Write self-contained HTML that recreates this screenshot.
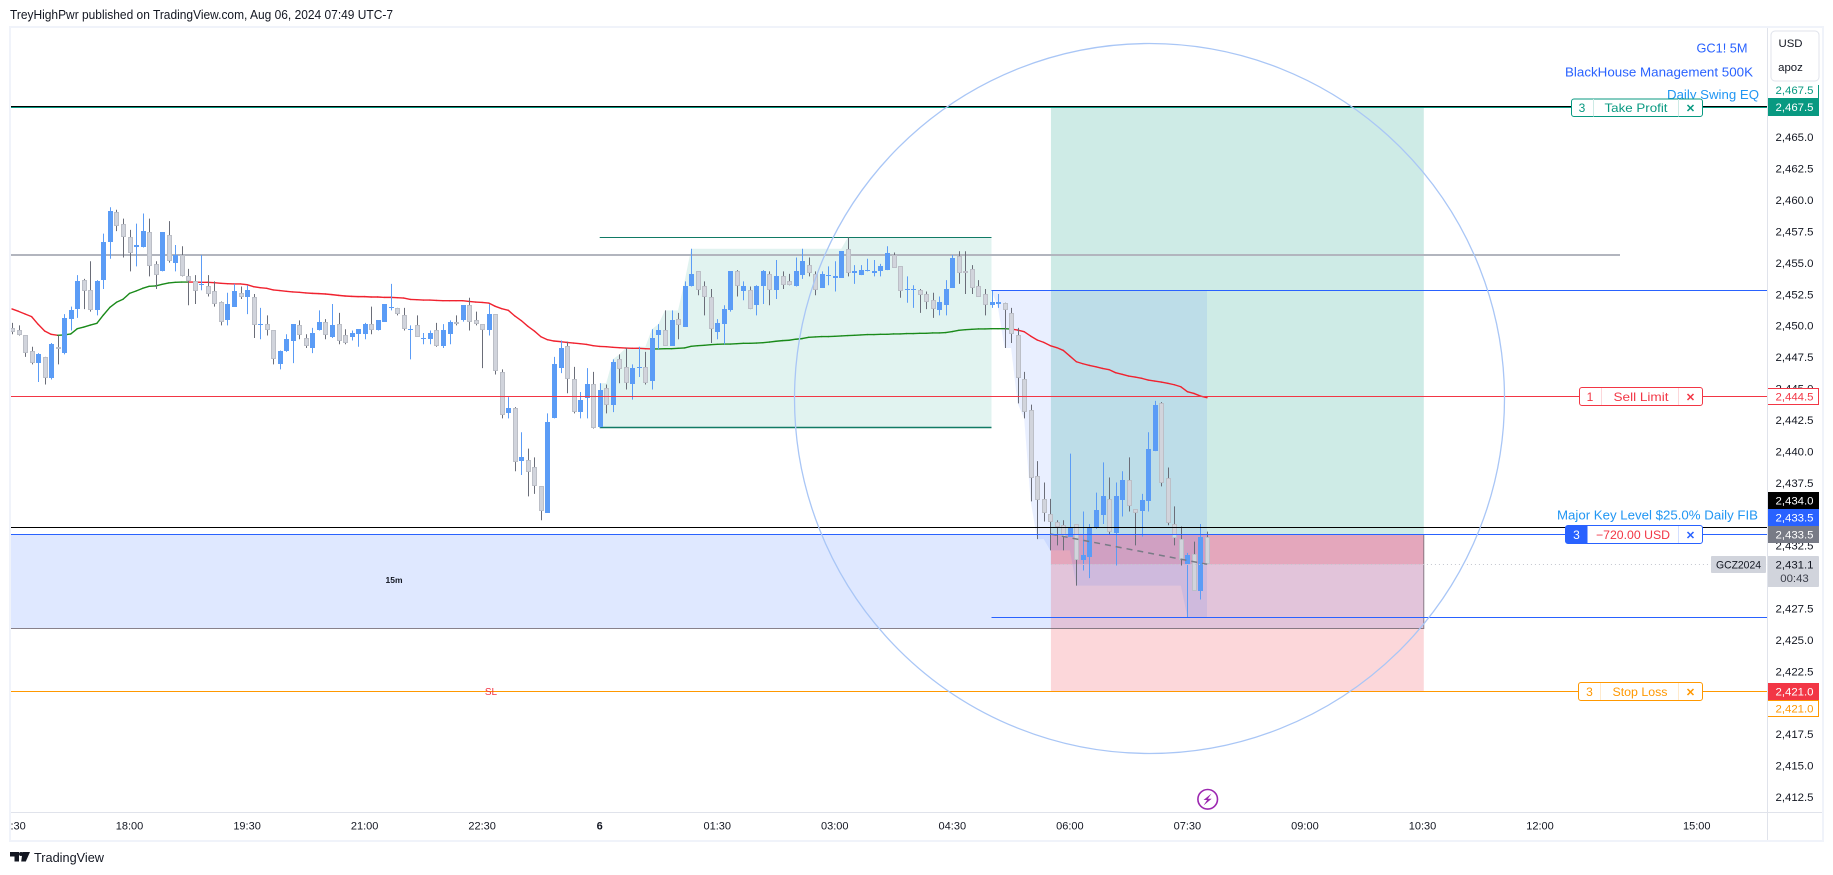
<!DOCTYPE html>
<html lang="en">
<head>
<meta charset="utf-8">
<title>GC1! 5M TradingView chart</title>
<style>
html,body{margin:0;padding:0;background:#fff;width:1833px;height:875px;overflow:hidden}
svg{display:block}
text{font-family:"Liberation Sans",sans-serif;fill:#131722}
.tag{font-size:12px;text-anchor:middle}
.ax{font-size:11.4px;text-anchor:middle}
.x{font-size:11px;font-weight:bold;text-anchor:middle}
</style>
</head>
<body>
<svg id="chart" xmlns="http://www.w3.org/2000/svg" width="1833" height="875" viewBox="0 0 1833 875">
  <defs>
    <clipPath id="plot-clip"><rect x="11" y="28" width="1756" height="784"/></clipPath>
    <clipPath id="time-clip"><rect x="11" y="813" width="1756" height="27"/></clipPath>
  </defs>
  <rect x="0" y="0" width="1833" height="875" fill="#ffffff"/>
  <text x="10" y="19" font-size="12.5" textLength="383" lengthAdjust="spacingAndGlyphs">TreyHighPwr published on TradingView.com, Aug 06, 2024 07:49 UTC-7</text>

  <g clip-path="url(#plot-clip)">
    <g id="zones"></g>
    <g id="backlines"></g>
    <g id="ma"></g>
    <g id="candles"></g>
    <g id="overlays"></g>
    <text x="394" y="583" font-size="8.5" font-weight="bold" text-anchor="middle">15m</text>
    <text x="491" y="695" font-size="10" fill="#f23645" style="fill:#f23645" text-anchor="middle">SL</text>
  </g>

  <g>
    <text x="1747.5" y="52.5" font-size="13" text-anchor="end" textLength="51" lengthAdjust="spacingAndGlyphs" style="fill:#2962ff">GC1! 5M</text>
    <text x="1753" y="76.5" font-size="13" text-anchor="end" textLength="188" lengthAdjust="spacingAndGlyphs" style="fill:#2962ff">BlackHouse Management 500K</text>
    <text x="1759" y="99" font-size="13" text-anchor="end" textLength="92" lengthAdjust="spacingAndGlyphs" style="fill:#2196f3">Daily Swing EQ</text>
    <text x="1758" y="519.5" font-size="13" text-anchor="end" textLength="201" lengthAdjust="spacingAndGlyphs" style="fill:#2196f3">Major Key Level $25.0% Daily FIB</text>
  </g>

  <g>
    <rect x="1571.5" y="99" width="131" height="17.5" rx="2.5" fill="#fff" stroke="#089981"/>
    <line x1="1593.5" x2="1593.5" y1="99" y2="116.5" stroke="#cdeae5"/>
    <line x1="1678.5" x2="1678.5" y1="99" y2="116.5" stroke="#cdeae5"/>
    <text class="tag" x="1582" y="112" style="fill:#089981">3</text>
    <text class="tag" x="1636" y="112" textLength="63" lengthAdjust="spacingAndGlyphs" style="fill:#089981">Take Profit</text>
    <text class="x" x="1690.5" y="112" style="fill:#089981">✕</text>
  </g>
  <g>
    <rect x="1579.5" y="387.5" width="123" height="18" rx="2.5" fill="#fff" stroke="#f23645"/>
    <line x1="1601.5" x2="1601.5" y1="388" y2="405" stroke="#fcd7da"/>
    <line x1="1678.5" x2="1678.5" y1="388" y2="405" stroke="#fcd7da"/>
    <text class="tag" x="1590" y="401" style="fill:#f23645">1</text>
    <text class="tag" x="1641" y="401" textLength="55" lengthAdjust="spacingAndGlyphs" style="fill:#f23645">Sell Limit</text>
    <text class="x" x="1690.5" y="401" style="fill:#f23645">✕</text>
  </g>
  <g>
    <rect x="1565.5" y="525.5" width="137" height="18" rx="2.5" fill="#fff" stroke="#2962ff"/>
    <path d="M1568 525.5h19.5v18H1568a2.5 2.5 0 0 1-2.5-2.5v-13a2.5 2.5 0 0 1 2.5-2.5z" fill="#2962ff"/>
    <line x1="1678.5" x2="1678.5" y1="526" y2="543" stroke="#d4dfff"/>
    <text class="tag" x="1576.5" y="539" style="fill:#fff">3</text>
    <text class="tag" x="1633" y="539" textLength="74" lengthAdjust="spacingAndGlyphs" style="fill:#f23645">−720.00 USD</text>
    <text class="x" x="1690.5" y="539" style="fill:#2962ff">✕</text>
  </g>
  <g>
    <rect x="1578.5" y="682.5" width="124" height="18" rx="2.5" fill="#fff" stroke="#ff9800"/>
    <line x1="1600.5" x2="1600.5" y1="683" y2="700" stroke="#ffeacc"/>
    <line x1="1678.5" x2="1678.5" y1="683" y2="700" stroke="#ffeacc"/>
    <text class="tag" x="1589.5" y="696" style="fill:#ff9800">3</text>
    <text class="tag" x="1640" y="696" textLength="55" lengthAdjust="spacingAndGlyphs" style="fill:#ff9800">Stop Loss</text>
    <text class="x" x="1690.5" y="696" style="fill:#ff9800">✕</text>
  </g>

  <g>
    <rect x="1711" y="556" width="55" height="17" rx="1" fill="#d1d4dc"/>
    <text x="1738.5" y="568.5" font-size="11.4" text-anchor="middle" textLength="45" lengthAdjust="spacingAndGlyphs">GCZ2024</text>
  </g>

  <g id="time-axis" clip-path="url(#time-clip)"></g>
  <g id="price-axis"></g>

  <g>
    <line x1="1767.5" x2="1767.5" y1="85" y2="98" stroke="#089981"/>
    <line x1="1818.5" x2="1818.5" y1="85" y2="98" stroke="#089981"/>
    <rect x="1768" y="85" width="50" height="13" fill="#fff"/>
    <text class="ax" x="1794.5" y="94" style="fill:#089981">2,467.5</text>
    <rect x="1767" y="98" width="52" height="18" fill="#089981"/>
    <text class="ax" x="1794.5" y="111" style="fill:#fff">2,467.5</text>

    <rect x="1767.5" y="388.5" width="51" height="16" fill="#fff" stroke="#f23645"/>
    <text class="ax" x="1794.5" y="400.5" style="fill:#f23645">2,444.5</text>

    <rect x="1767" y="492" width="52" height="17" fill="#000"/>
    <text class="ax" x="1794.5" y="504.5" style="fill:#fff">2,434.0</text>
    <rect x="1767" y="509" width="52" height="17" fill="#2962ff"/>
    <text class="ax" x="1794.5" y="521.5" style="fill:#fff">2,433.5</text>
    <rect x="1767" y="526" width="52" height="17" fill="#787b86"/>
    <text class="ax" x="1794.5" y="538.5" style="fill:#fff">2,433.5</text>

    <rect x="1767" y="556" width="52" height="31" rx="1" fill="#d1d4dc"/>
    <text class="ax" x="1794.5" y="568.5">2,431.1</text>
    <text class="ax" x="1794.5" y="582" style="fill:#3c3f4a">00:43</text>

    <rect x="1767" y="683" width="52" height="17" fill="#f23645"/>
    <text class="ax" x="1794.5" y="695.5" style="fill:#fff">2,421.0</text>
    <rect x="1767.5" y="700.5" width="51" height="16" fill="#fff" stroke="#ff9800"/>
    <text class="ax" x="1794.5" y="712.5" style="fill:#ff9800">2,421.0</text>

    <rect x="1771" y="31" width="48" height="50" rx="4" fill="#fff" stroke="#e0e3eb"/>
    <text x="1790.5" y="47" font-size="11.4" text-anchor="middle">USD</text>
    <text x="1790.5" y="71" font-size="11.4" text-anchor="middle">apoz</text>
  </g>

  <g>
    <rect x="9" y="26" width="1815" height="2" fill="#f0f3fa"/>
    <rect x="9" y="26" width="2" height="816" fill="#f0f3fa"/>
    <rect x="1822" y="26" width="2" height="816" fill="#f0f3fa"/>
    <rect x="9" y="840" width="1815" height="2" fill="#f0f3fa"/>
    <rect x="1767" y="28" width="1" height="812" fill="#e0e3eb"/>
    <rect x="11" y="812" width="1811" height="1" fill="#e0e3eb"/>
  </g>

  <g>
    <circle cx="1207.7" cy="799.3" r="9.8" fill="#fff" stroke="#9c27b0" stroke-width="1.6"/>
    <path d="M1211.5 793.5l-8 6.5h3.6l-3.6 5.5 8.2-6.8h-3.8z" fill="#9c27b0"/>
  </g>

  <g>
    <path d="M10 852h9v9.5h-4.5v-5H10zM22.5 852h7.5l-4.2 9.5h-4.6z" fill="#131722"/>
    <circle cx="21" cy="854" r="2" fill="#131722"/>
    <text x="34" y="862" font-size="13" textLength="70" lengthAdjust="spacingAndGlyphs">TradingView</text>
  </g>
</svg>

<script>
const opens=[2449.9,2449.7,2449.3,2448.1,2447.1,2447.6,2445.9,2448.4,2447.9,2450.6,
2451.4,2453.7,2452.9,2451.3,2453.7,2456.7,2459.1,2458.2,2457.1,2456.3,
2456.3,2457.5,2455.0,2454.4,2457.3,2455.1,2455.7,2454.0,2453.6,2453.3,
2453.2,2452.8,2452.0,2450.5,2451.6,2452.7,2452.4,2452.4,2450.1,2450.2,
2449.7,2447.0,2448.1,2448.9,2450.1,2449.1,2448.3,2449.7,
2450.4,2449.2,2450.2,2449.3,2449.2,2449.4,2449.4,2450.2,2449.7,2450.4,
2451.5,2451.5,2450.9,2449.7,2450.1,2449.0,2449.0,2449.7,2448.5,2449.4,
2450.4,2450.5,2451.7,2450.5,2450.2,2449.7,2451.0,2446.4,2443.1,2443.5,
2439.3,2439.4,2438.8,2437.3,2435.2,2442.7,2446.7,2448.5,2445.8,2443.2,
2444.3,2445.4,2442.0,2445.1,2443.8,2447.4,2446.8,2445.4,2446.7,
2446.8,2445.7,2449.3,2449.7,2448.5,2450.6,2450.0,2453.2,2454.4,2453.2,
2452.4,2449.6,2450.2,2451.3,2454.4,2452.8,2452.9,2451.7,2453.2,2454.2,
2452.9,2454.0,2453.6,2453.2,2454.1,2454.9,2454.2,2453.1,2454.0,2453.9,
2453.9,2456.2,2454.3,2454.1,2454.4,2454.3,2454.4,2454.5,2455.7,2454.8,
2452.9,2452.9,2452.9,2452.6,2452.1,2451.3,2451.7,2453.1,2455.6,2454.4,
2454.6,2453.2,2452.6,2451.7,2451.8,
2451.9,2451.1,2449.3,2445.8,2443.4,2438.1,2436.3,2435.1,2434.5,2434.2,
2433.3,2434.3,2431.4,2431.7,2434.1,2435.0,2436.3,2433.6,2436.2,2437.8,
2435.5,2435.3,2436.1,2440.1,2443.9,2438.0,2434.3,2433.1,2431.1,2431.9,
2429.0,2433.3];
const closes=[2449.6,2449.3,2447.9,2447.1,2447.8,2445.9,2448.6,2448.2,2450.7,2451.3,
2453.6,2452.8,2451.3,2453.6,2456.7,2459.2,2458.0,2457.1,2455.9,2456.5,
2457.6,2454.8,2454.1,2457.5,2455.2,2455.7,2454.0,2453.6,2452.8,2453.4,
2452.6,2451.8,2450.4,2451.8,2452.8,2452.4,2452.9,2450.1,2450.2,2449.7,
2447.4,2448.1,2449.0,2450.2,2449.3,2448.5,2449.5,2450.4,
2449.3,2450.1,2448.9,2448.7,2449.5,2449.8,2450.2,2449.7,2450.5,2451.8,
2451.6,2451.0,2449.8,2449.8,2449.2,2449.1,2449.5,2448.5,2449.7,2450.4,
2450.2,2451.7,2450.4,2450.2,2449.7,2451.0,2446.5,2443.0,2443.5,2439.2,
2439.6,2438.4,2437.3,2435.3,2442.4,2447.0,2448.3,2445.8,2443.2,2444.2,
2445.4,2441.9,2445.0,2443.8,2447.2,2446.6,2445.5,2446.7,2446.8,
2445.5,2449.1,2449.7,2448.5,2450.5,2450.1,2453.2,2454.2,2452.9,2452.4,
2449.8,2450.3,2451.4,2454.4,2453.2,2453.2,2451.4,2453.2,2454.4,2452.9,
2454.0,2453.3,2453.3,2454.4,2455.2,2454.3,2452.9,2454.2,2454.1,2454.0,
2456.0,2454.3,2454.4,2454.5,2454.5,2454.4,2454.8,2455.9,2454.7,2452.8,
2453.0,2453.0,2452.5,2452.0,2451.4,2452.0,2453.0,2455.5,2454.3,2454.3,
2453.1,2452.4,2451.7,2452.0,2452.0,
2451.3,2449.4,2445.9,2443.2,2438.0,2436.2,2435.2,2434.5,2434.1,2433.3,
2434.1,2431.4,2431.8,2434.1,2435.4,2436.5,2433.7,2436.5,2437.8,2435.7,
2435.2,2436.2,2440.3,2443.8,2437.6,2434.4,2433.2,2431.4,2431.8,2429.0,
2433.3,2431.1];
const highs=[2450.3,2450.1,2449.3,2448.4,2447.9,2447.6,2448.7,2449.3,2451.0,2451.6,
2454.1,2453.8,2455.2,2453.7,2457.4,2459.5,2459.3,2458.6,2457.7,2458.2,
2459.0,2458.6,2455.2,2457.5,2458.4,2456.5,2456.4,2454.6,2454.1,2455.7,
2454.1,2453.6,2452.0,2452.7,2453.4,2453.2,2453.3,2452.6,2451.5,2450.9,
2449.7,2448.1,2449.4,2450.2,2450.5,2449.4,2449.9,2451.3,
2450.6,2451.8,2451.1,2449.8,2449.7,2449.8,2450.3,2451.6,2450.5,2451.8,
2453.4,2451.5,2451.5,2450.1,2450.9,2449.5,2449.7,2450.3,2450.2,2450.5,
2450.9,2451.7,2452.3,2451.2,2450.2,2451.8,2451.0,2446.6,2444.4,2443.6,
2441.6,2440.3,2439.6,2437.3,2443.1,2447.6,2448.9,2448.8,2446.8,2444.8,
2446.7,2446.4,2445.5,2445.4,2447.4,2447.8,2448.3,2447.0,2448.4,
2448.0,2449.8,2450.2,2451.3,2451.3,2451.1,2453.6,2456.2,2454.4,2453.6,
2453.0,2450.6,2451.7,2454.4,2454.5,2453.6,2453.2,2453.3,2454.5,2454.4,
2455.3,2454.4,2454.2,2455.5,2456.2,2455.5,2454.4,2454.4,2454.8,2455.2,
2456.0,2457.1,2454.9,2454.9,2455.4,2455.3,2455.0,2456.4,2455.9,2454.8,
2454.0,2453.3,2453.0,2452.8,2452.7,2452.4,2453.7,2455.7,2456.0,2456.0,
2454.9,2453.7,2453.0,2452.9,2452.6,
2451.9,2451.5,2449.9,2446.4,2443.8,2439.3,2437.6,2436.3,2434.6,2434.6,
2439.9,2434.3,2435.3,2434.3,2436.8,2439.2,2438.0,2437.6,2438.5,2439.6,
2435.5,2436.7,2441.6,2444.1,2444.0,2438.8,2435.7,2434.1,2432.0,2432.9,
2434.3,2433.7];
const lows=[2449.4,2449.3,2447.6,2447.0,2445.6,2445.4,2445.8,2447.0,2447.8,2449.7,
2450.7,2451.4,2451.2,2450.9,2453.0,2455.4,2457.6,2455.5,2454.4,2454.8,
2456.3,2454.0,2453.0,2454.4,2455.1,2454.4,2454.0,2451.7,2451.8,2452.9,
2452.4,2451.6,2450.1,2450.1,2451.6,2452.2,2451.0,2449.1,2449.0,2449.3,
2447.0,2446.6,2448.0,2447.1,2449.0,2448.3,2447.9,2449.7,
2449.0,2449.1,2448.6,2448.6,2448.9,2448.4,2449.0,2449.4,2449.7,2450.4,
2451.3,2450.9,2449.7,2447.4,2449.2,2448.6,2448.6,2448.4,2448.3,2448.6,
2450.1,2450.4,2449.7,2450.1,2446.7,2449.3,2446.2,2442.7,2442.7,2438.5,
2438.2,2436.5,2436.7,2434.6,2435.2,2442.7,2446.3,2444.7,2443.1,2442.7,
2442.7,2441.9,2442.0,2443.1,2443.2,2445.5,2445.0,2444.2,2446.0,
2445.4,2445.0,2448.2,2448.5,2448.5,2449.0,2450.0,2453.2,2452.5,2450.9,
2448.7,2449.0,2448.6,2451.2,2452.4,2452.1,2451.4,2450.9,2451.8,2451.7,
2452.2,2453.0,2453.3,2453.2,2453.8,2454.0,2452.5,2453.1,2453.3,2452.8,
2453.9,2454.0,2453.4,2454.1,2454.4,2454.0,2454.0,2454.5,2454.7,2452.3,
2451.9,2451.5,2451.1,2451.4,2450.7,2450.9,2450.9,2453.1,2453.4,2452.6,
2452.6,2452.4,2450.9,2451.5,2451.5,
2448.3,2448.7,2443.9,2442.7,2436.1,2433.1,2434.5,2432.2,2432.6,2432.2,
2433.3,2429.4,2430.6,2430.0,2433.9,2434.3,2433.5,2431.0,2434.9,2435.3,
2432.6,2433.3,2435.3,2440.1,2437.3,2434.2,2432.6,2431.0,2426.9,2429.0,
2428.3,2431.1];
const maValues=[2451.41,2451.22,2451.01,2450.8,2450.19,2449.66,2449.39,2449.31,2449.34,2449.42,
2449.84,2449.97,2450.13,2450.27,2450.93,2451.54,2451.94,2452.18,2452.65,2452.84,
2453.05,2453.21,2453.24,2453.37,2453.48,2453.53,2453.55,2453.55,2453.55,2453.53,
2453.53,2453.5,2453.45,2453.42,2453.4,2453.4,2453.34,2453.18,2453.1,2453.05,
2452.92,2452.87,2452.81,2452.76,2452.73,2452.68,2452.65,2452.63,
2452.6,2452.55,2452.49,2452.44,2452.41,2452.39,2452.39,2452.36,2452.36,2452.33,
2452.33,2452.31,2452.28,2452.17,2452.15,2452.12,2452.12,2452.09,2452.07,2452.07,
2452.07,2452.07,2452.01,2451.96,2451.93,2451.88,2451.62,2451.43,2451.3,2450.85,
2450.48,2450.03,2449.65,2449.2,2448.96,2448.86,2448.81,2448.75,2448.7,2448.65,
2448.59,2448.49,2448.43,2448.41,2448.36,2448.33,2448.3,2448.28,2448.28,
2448.25,2448.23,2448.23,2448.25,2448.25,2448.28,2448.31,2448.44,2448.49,2448.52,
2448.57,2448.6,2448.62,2448.62,2448.65,2448.68,2448.68,2448.7,2448.73,2448.78,
2448.84,2448.89,2448.92,2449.0,2449.05,2449.15,2449.18,2449.21,2449.21,2449.23,
2449.26,2449.29,2449.31,2449.34,2449.37,2449.37,2449.39,2449.39,2449.42,2449.42,
2449.45,2449.45,2449.47,2449.47,2449.5,2449.5,2449.53,2449.61,2449.71,2449.76,
2449.79,2449.82,2449.82,2449.84,2449.84,
2449.84,2449.81,2449.73,2449.6,2449.25,2448.94,2448.75,2448.49,2448.33,2448.11,
2447.66,2447.21,2447.05,2446.92,2446.81,2446.68,2446.58,2446.34,2446.21,2446.07,
2445.99,2445.89,2445.75,2445.67,2445.59,2445.49,2445.38,2445.22,2444.83,2444.69,
2444.48,2444.35];
const maGreenStart=[7,98];
const maGreenEnd=[27,153];
const priceTicks=[2465,2462.5,2460,2457.5,2455,2452.5,2450,2447.5,2445,2442.5,2440,2437.5,2432.5,2427.5,2425,2422.5,2417.5,2415,2412.5];
const timeTickBars=[0,18,36,54,72,90,108,126,144,162,180,198,216,234,258];
const timeTickLabels=["16:30","18:00","19:30","21:00","22:30","6","01:30","03:00","04:30","06:00","07:30","09:00","10:30","12:00","15:00"];
const takeProfitPrice=2467.5;
const entryPrice=2433.5;
const stopPrice=2421;
const sellLimitPrice=2444.5;
const blackLevelPrice=2434;
const grayLevelPrice=2455.7;
const lastPrice=2431.1;
const zoneTopPrice=2433.5;
const zoneBottomPrice=2426;
const rangeHighPrice=2457.1;
const rangeLowPrice=2442;
const fallTopPrice=2452.9;
const fallBottomPrice=2426.9;
const riseStartBar=90;
const riseEndBar=150;
const fallStartBar=150;
const fallEndBar=183;
const positionStartBar=159.1;
const positionEndBar=216.2;

const SVGNS='http://www.w3.org/2000/svg';
function xAt(i){return 12+i*6.53;}
function yAt(p){return 106.7+(2467.5-p)*12.57;}
function snap(v){return Math.floor(v)+0.5;}
function mk(parent,tag,attrs){
  const el=document.createElementNS(SVGNS,tag);
  for(const k in attrs){el.setAttribute(k,attrs[k]);}
  parent.appendChild(el);
  return el;
}
const zones=document.getElementById('zones');
const back=document.getElementById('backlines');
const maLayer=document.getElementById('ma');
const candleLayer=document.getElementById('candles');
const over=document.getElementById('overlays');
const timeAxis=document.getElementById('time-axis');
const priceAxis=document.getElementById('price-axis');

function band(i0,i1,p0,p1,fill){
  return mk(zones,'rect',{x:xAt(i0),y:yAt(p0),width:xAt(i1)-xAt(i0),height:yAt(p1)-yAt(p0),fill:fill});
}
let el;
el=mk(zones,'rect',{x:11,y:yAt(zoneTopPrice),width:xAt(positionEndBar)-11,height:yAt(zoneBottomPrice)-yAt(zoneTopPrice),fill:'rgba(41,98,255,0.15)'});


el=band(positionStartBar,positionEndBar,takeProfitPrice,entryPrice,'rgba(8,153,129,0.2)');


el=band(positionStartBar,positionEndBar,entryPrice,stopPrice,'rgba(242,54,69,0.2)');


el=band(positionStartBar,positionEndBar,entryPrice,lastPrice,'rgba(242,54,69,0.2)');



/* zone outline (right + bottom) */
el=mk(zones,'path',{d:'M'+xAt(positionEndBar)+' '+yAt(zoneTopPrice)+'V'+snap(yAt(zoneBottomPrice))+'H11',fill:'none',stroke:'rgba(100,90,100,0.75)','stroke-width':1});



/* rising range: top tracks running max of highs */
let pts=[[xAt(riseStartBar),yAt(rangeLowPrice)]];
let runMax=-Infinity;
for(let i=riseStartBar;i<=riseEndBar;i++){
  runMax=Math.max(runMax,highs[i]);
  pts.push([xAt(i),yAt(runMax)]);
}
pts.push([xAt(riseEndBar),yAt(rangeLowPrice)]);
el=mk(zones,'polygon',{points:pts.map(p=>p.join(',')).join(' '),fill:'rgba(8,153,129,0.12)'});



/* falling range: bottom tracks running min of lows */
pts=[[xAt(fallStartBar),yAt(fallTopPrice)],[xAt(fallEndBar),yAt(fallTopPrice)]];
const lower=[];
let runMin=Infinity;
for(let i=fallStartBar+1;i<=fallEndBar;i++){
  runMin=Math.min(runMin,lows[i]);
  lower.push([xAt(i),yAt(runMin)]);
}
pts=pts.concat(lower.reverse());
el=mk(zones,'polygon',{points:pts.map(p=>p.join(',')).join(' '),fill:'rgba(41,98,255,0.1)'});



function hline(parent,x1,x2,price,color,w){
  const y=snap(yAt(price));
  return mk(parent,'line',{x1:x1,x2:x2,y1:y,y2:y,stroke:color,'stroke-width':w||1});
}
el=mk(back,'line',{x1:11,x2:1620,y1:Math.round(yAt(grayLevelPrice)),y2:Math.round(yAt(grayLevelPrice)),stroke:'#b2b5be','stroke-width':2});


el=hline(back,xAt(riseStartBar),xAt(riseEndBar),rangeHighPrice,'#117a65',1);


el=hline(back,xAt(riseStartBar),xAt(riseEndBar),rangeLowPrice,'#117a65',1.4);



/* moving average */
for(let i=0;i<maValues.length-1;i++){
  let green=false;
  for(let s=0;s<maGreenStart.length;s++){
    if(i>=maGreenStart[s]&&i<maGreenEnd[s]){green=true;}
  }
  el=mk(maLayer,'line',{x1:xAt(i),y1:yAt(maValues[i]),x2:xAt(i+1),y2:yAt(maValues[i+1]),stroke:green?'#1a8a1a':'#f0222f','stroke-width':1.4,'stroke-linecap':'round'});
  
  
}

/* candles */
for(let i=0;i<opens.length;i++){
  const up=closes[i]>=opens[i];
  const cx=Math.round(xAt(i));
  const top=Math.round(yAt(Math.max(opens[i],closes[i])));
  const bot=Math.max(top+1,Math.round(yAt(Math.min(opens[i],closes[i]))));
  const wick=mk(candleLayer,'line',{x1:cx+0.5,x2:cx+0.5,y1:yAt(highs[i]),y2:yAt(lows[i]),stroke:up?'#5b9cf6':'#6a6d78','stroke-width':1});
  
  
  let body;
  if(up){
    body=mk(candleLayer,'rect',{x:cx-2,y:top,width:5,height:bot-top,fill:'#5b9cf6'});
  }else{
    body=mk(candleLayer,'rect',{x:cx-1.5,y:top+0.5,width:4,height:Math.max(1,bot-top-1),fill:'#d1d4dc',stroke:'#bcbfc7','stroke-width':1});
  }
  
  
}

/* order / level lines drawn over candles */
el=mk(over,'line',{x1:xAt(positionStartBar),y1:yAt(entryPrice),x2:xAt(fallEndBar),y2:yAt(lastPrice),stroke:'#787b86','stroke-width':1.5,'stroke-dasharray':'6 5'});


el=hline(over,11,1767,lastPrice,'#c4c7cf',1);
el.setAttribute('stroke-dasharray','1 3');
el.setAttribute('x1',xAt(positionStartBar));


el=mk(over,'line',{x1:11,x2:1767,y1:snap(yAt(takeProfitPrice))+1,y2:snap(yAt(takeProfitPrice))+1,stroke:'#089981','stroke-width':1});


el=hline(over,11,1767,takeProfitPrice,'#000000',1);


el=mk(over,'line',{x1:11,x2:1767,y1:snap(yAt(sellLimitPrice))+1,y2:snap(yAt(sellLimitPrice))+1,stroke:'#f23645','stroke-width':1});


el=hline(over,11,1767,blackLevelPrice,'#000000',1);


el=hline(over,11,1767,entryPrice,'#2962ff',1);


el=hline(over,11,1767,stopPrice,'#ff9800',1);


el=hline(over,xAt(fallStartBar),1767,fallTopPrice,'#2962ff',1);


el=hline(over,xAt(fallStartBar),1767,fallBottomPrice,'#2962ff',1);


el=mk(over,'circle',{cx:1149.5,cy:398.5,r:355,fill:'none',stroke:'#a9c6f6','stroke-width':1.3});



/* axes */
for(let i=0;i<priceTicks.length;i++){
  const t=mk(priceAxis,'text',{x:1794.5,y:yAt(priceTicks[i])+3,'font-size':11.4,'text-anchor':'middle'});
  t.textContent=priceTicks[i].toLocaleString('en-US',{minimumFractionDigits:1,maximumFractionDigits:1});
  
  
}
for(let i=0;i<timeTickBars.length;i++){
  const isDay=timeTickLabels[i].length===1;
  const t=mk(timeAxis,'text',{x:xAt(timeTickBars[i]),y:829.5,'font-size':11,'text-anchor':'middle','font-weight':isDay?'bold':'normal'});
  t.textContent=timeTickLabels[i];
  
  
}
</script>
</body>
</html>
